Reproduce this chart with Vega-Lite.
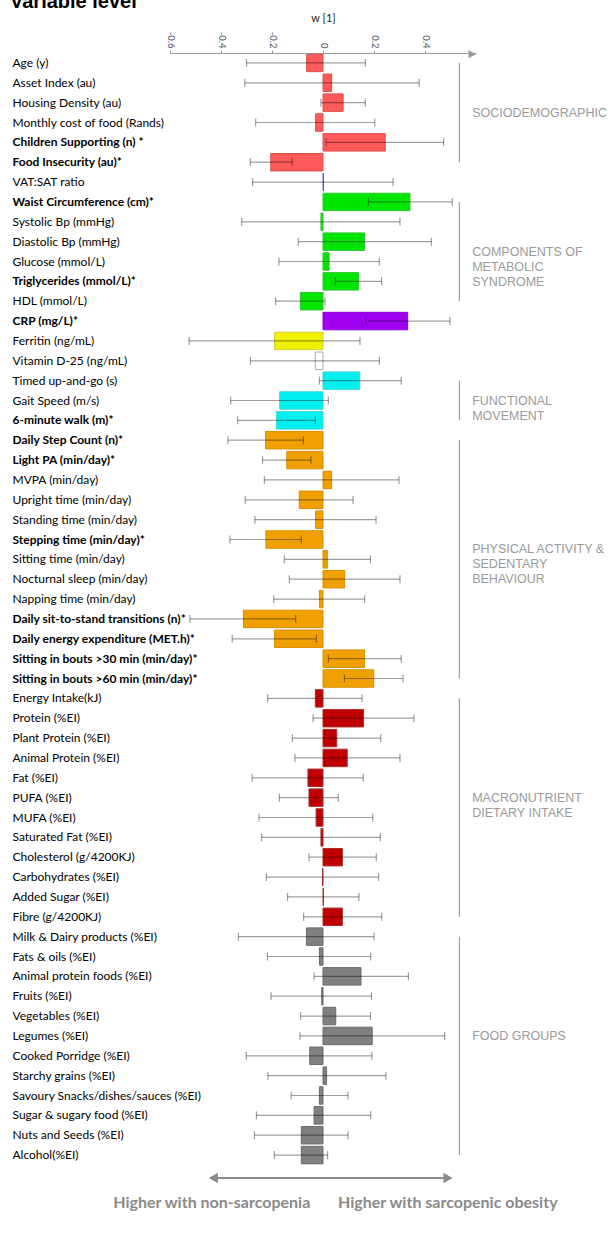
{
  "$schema": "https://vega.github.io/schema/vega-lite/v6.json",
  "padding": {"left": 10, "top": -8, "right": 0, "bottom": 0},
  "title": {"text": "Variable level", "anchor": "start", "frame": "bounds", "fontSize": 20, "font": "Liberation Sans", "fontWeight": "bold", "color": "#000000", "offset": 0, "dx": -2},
  "spacing": 0,
  "config": {"view": {"stroke": null}, "font": "Lato"},
  "datasets": {
    "rows": [
      {"label": "Age (y)", "w": -0.064, "lo": -0.30, "hi": 0.166, "category": "Sociodemographic"},
      {"label": "Asset Index (au)", "w": 0.034, "lo": -0.307, "hi": 0.377, "category": "Sociodemographic"},
      {"label": "Housing Density (au)", "w": 0.079, "lo": -0.008, "hi": 0.166, "category": "Sociodemographic"},
      {"label": "Monthly cost of food (Rands)", "w": -0.029, "lo": -0.264, "hi": 0.203, "category": "Sociodemographic"},
      {"label": "Children Supporting (n) *", "w": 0.244, "lo": 0.012, "hi": 0.473, "category": "Sociodemographic"},
      {"label": "Food Insecurity (au)*", "w": -0.205, "lo": -0.285, "hi": -0.121, "category": "Sociodemographic"},
      {"label": "VAT:SAT ratio", "w": 0.002, "lo": -0.276, "hi": 0.275, "category": "VAT:SAT"},
      {"label": "Waist Circumference (cm)*", "w": 0.341, "lo": 0.178, "hi": 0.507, "category": "Metabolic syndrome"},
      {"label": "Systolic Bp (mmHg)", "w": -0.008, "lo": -0.319, "hi": 0.302, "category": "Metabolic syndrome"},
      {"label": "Diastolic Bp (mmHg)", "w": 0.163, "lo": -0.097, "hi": 0.425, "category": "Metabolic syndrome"},
      {"label": "Glucose (mmol/L)", "w": 0.024, "lo": -0.173, "hi": 0.221, "category": "Metabolic syndrome"},
      {"label": "Triglycerides (mmol/L)*", "w": 0.140, "lo": 0.048, "hi": 0.230, "category": "Metabolic syndrome"},
      {"label": "HDL (mmol/L)", "w": -0.089, "lo": -0.186, "hi": 0.008, "category": "Metabolic syndrome"},
      {"label": "CRP (mg/L)*", "w": 0.332, "lo": 0.167, "hi": 0.498, "category": "CRP"},
      {"label": "Ferritin (ng/mL)", "w": -0.190, "lo": -0.525, "hi": 0.145, "category": "Ferritin"},
      {"label": "Vitamin D-25 (ng/mL)", "w": -0.030, "lo": -0.285, "hi": 0.221, "category": "Vitamin D"},
      {"label": "Timed up-and-go (s)", "w": 0.144, "lo": -0.014, "hi": 0.307, "category": "Functional movement"},
      {"label": "Gait Speed (m/s)", "w": -0.170, "lo": -0.362, "hi": 0.021, "category": "Functional movement"},
      {"label": "6-minute walk (m)*", "w": -0.182, "lo": -0.335, "hi": -0.030, "category": "Functional movement"},
      {"label": "Daily Step Count (n)*", "w": -0.225, "lo": -0.373, "hi": -0.077, "category": "Physical activity"},
      {"label": "Light PA (min/day)*", "w": -0.142, "lo": -0.237, "hi": -0.047, "category": "Physical activity"},
      {"label": "MVPA (min/day)", "w": 0.034, "lo": -0.230, "hi": 0.298, "category": "Physical activity"},
      {"label": "Upright time (min/day)", "w": -0.093, "lo": -0.305, "hi": 0.118, "category": "Physical activity"},
      {"label": "Standing time (min/day)", "w": -0.029, "lo": -0.267, "hi": 0.208, "category": "Physical activity"},
      {"label": "Stepping time (min/day)*", "w": -0.224, "lo": -0.365, "hi": -0.085, "category": "Physical activity"},
      {"label": "Sitting time (min/day)", "w": 0.017, "lo": -0.152, "hi": 0.186, "category": "Physical activity"},
      {"label": "Nocturnal sleep (min/day)", "w": 0.085, "lo": -0.132, "hi": 0.302, "category": "Physical activity"},
      {"label": "Napping time (min/day)", "w": -0.014, "lo": -0.193, "hi": 0.163, "category": "Physical activity"},
      {"label": "Daily sit-to-stand transitions (n)*", "w": -0.312, "lo": -0.522, "hi": -0.107, "category": "Physical activity"},
      {"label": "Daily energy expenditure (MET.h)*", "w": -0.190, "lo": -0.356, "hi": -0.026, "category": "Physical activity"},
      {"label": "Sitting in bouts >30 min (min/day)*", "w": 0.163, "lo": 0.021, "hi": 0.307, "category": "Physical activity"},
      {"label": "Sitting in bouts >60 min (min/day)*", "w": 0.199, "lo": 0.084, "hi": 0.314, "category": "Physical activity"},
      {"label": "Energy Intake(kJ)", "w": -0.030, "lo": -0.217, "hi": 0.153, "category": "Macronutrient"},
      {"label": "Protein (%EI)", "w": 0.159, "lo": -0.039, "hi": 0.357, "category": "Macronutrient"},
      {"label": "Plant Protein (%EI)", "w": 0.054, "lo": -0.120, "hi": 0.227, "category": "Macronutrient"},
      {"label": "Animal Protein (%EI)", "w": 0.095, "lo": -0.110, "hi": 0.302, "category": "Macronutrient"},
      {"label": "Fat (%EI)", "w": -0.059, "lo": -0.278, "hi": 0.158, "category": "Macronutrient"},
      {"label": "PUFA (%EI)", "w": -0.055, "lo": -0.171, "hi": 0.060, "category": "Macronutrient"},
      {"label": "MUFA (%EI)", "w": -0.027, "lo": -0.251, "hi": 0.195, "category": "Macronutrient"},
      {"label": "Saturated Fat (%EI)", "w": -0.008, "lo": -0.241, "hi": 0.225, "category": "Macronutrient"},
      {"label": "Cholesterol (g/4200KJ)", "w": 0.076, "lo": -0.055, "hi": 0.209, "category": "Macronutrient"},
      {"label": "Carbohydrates (%EI)", "w": -0.002, "lo": -0.222, "hi": 0.218, "category": "Macronutrient"},
      {"label": "Added Sugar (%EI)", "w": 0.002, "lo": -0.139, "hi": 0.141, "category": "Macronutrient"},
      {"label": "Fibre (g/4200KJ)", "w": 0.076, "lo": -0.076, "hi": 0.230, "category": "Macronutrient"},
      {"label": "Milk & Dairy products (%EI)", "w": -0.065, "lo": -0.332, "hi": 0.200, "category": "Food groups"},
      {"label": "Fats & oils (%EI)", "w": -0.014, "lo": -0.218, "hi": 0.187, "category": "Food groups"},
      {"label": "Animal protein foods (%EI)", "w": 0.149, "lo": -0.035, "hi": 0.335, "category": "Food groups"},
      {"label": "Fruits (%EI)", "w": -0.005, "lo": -0.204, "hi": 0.190, "category": "Food groups"},
      {"label": "Vegetables (%EI)", "w": 0.050, "lo": -0.088, "hi": 0.186, "category": "Food groups"},
      {"label": "Legumes (%EI)", "w": 0.193, "lo": -0.090, "hi": 0.477, "category": "Food groups"},
      {"label": "Cooked Porridge (%EI)", "w": -0.052, "lo": -0.301, "hi": 0.192, "category": "Food groups"},
      {"label": "Starchy grains (%EI)", "w": 0.014, "lo": -0.216, "hi": 0.247, "category": "Food groups"},
      {"label": "Savoury Snacks/dishes/sauces (%EI)", "w": -0.014, "lo": -0.125, "hi": 0.098, "category": "Food groups"},
      {"label": "Sugar & sugary food (%EI)", "w": -0.035, "lo": -0.261, "hi": 0.187, "category": "Food groups"},
      {"label": "Nuts and Seeds (%EI)", "w": -0.085, "lo": -0.269, "hi": 0.098, "category": "Food groups"},
      {"label": "Alcohol(%EI)", "w": -0.085, "lo": -0.191, "hi": 0.018, "category": "Food groups"}
    ],
    "groups": [
      {"group": ["SOCIODEMOGRAPHIC"], "start": "Age (y)", "end": "Food Insecurity (au)*", "anchor": "Housing Density (au)", "place": "between"},
      {"group": ["COMPONENTS OF", "METABOLIC", "SYNDROME"], "start": "Waist Circumference (cm)*", "end": "HDL (mmol/L)", "anchor": "Diastolic Bp (mmHg)", "place": "between"},
      {"group": ["FUNCTIONAL", "MOVEMENT"], "start": "Timed up-and-go (s)", "end": "6-minute walk (m)*", "anchor": "Gait Speed (m/s)", "place": "center"},
      {"group": ["PHYSICAL ACTIVITY &", "SEDENTARY", "BEHAVIOUR"], "start": "Daily Step Count (n)*", "end": "Sitting in bouts >60 min (min/day)*", "anchor": "Stepping time (min/day)*", "place": "between"},
      {"group": ["MACRONUTRIENT", "DIETARY INTAKE"], "start": "Energy Intake(kJ)", "end": "Fibre (g/4200KJ)", "anchor": "PUFA (%EI)", "place": "center"},
      {"group": ["FOOD GROUPS"], "start": "Milk & Dairy products (%EI)", "end": "Alcohol(%EI)", "anchor": "Legumes (%EI)", "place": "center"}
    ]
  },
  "vconcat": [
    {
      "width": 306,
      "height": 1112,
      "layer": [
        {
          "data": {"name": "rows"},
          "mark": {"type": "bar", "strokeWidth": 1},
          "encoding": {
            "y": {
              "field": "label", "type": "nominal", "sort": null,
              "scale": {"paddingInner": 0.12, "paddingOuter": 0.06},
              "axis": {
                "title": null, "domain": false, "ticks": false,
                "labelAlign": "left", "labelPadding": 158, "labelLimit": 400,
                "labelFont": "Lato", "labelFontSize": 12, "labelColor": "#000000",
                "labelFontWeight": {"condition": {"test": "indexof(datum.value, '*') >= 0", "value": "bold"}, "value": "normal"}
              }
            },
            "x": {
              "field": "w", "type": "quantitative",
              "scale": {"domain": [-0.6, 0.6], "nice": false, "zero": false},
              "axis": {
                "orient": "top", "title": "w [1]", "titleFontSize": 11, "titleFontWeight": "normal", "titleColor": "#222222", "titlePadding": 8,
                "values": [-0.6, -0.5, -0.4, -0.3, -0.2, -0.1, 0, 0.1, 0.2, 0.3, 0.4, 0.5],
                "labelExpr": "abs(round(datum.value*10)) % 2 == 0 ? '' + datum.value : ''",
                "labelAngle": 90, "labelAlign": "right", "labelBaseline": "middle", "labelFlush": false, "labelOverlap": false,
                "labelFontSize": 9.5, "labelColor": "#4f5a66", "labelPadding": 2,
                "tickSize": 3, "tickColor": "#999999", "domainColor": "#999999", "grid": false
              }
            },
            "x2": {"datum": 0},
            "fill": {
              "field": "category", "type": "nominal", "legend": null,
              "scale": {
                "domain": ["Sociodemographic", "VAT:SAT", "Metabolic syndrome", "CRP", "Ferritin", "Vitamin D", "Functional movement", "Physical activity", "Macronutrient", "Food groups"],
                "range": ["#ff5a5a", "#5a5ae6", "#00e600", "#a000f0", "#f0f000", "#ffffff", "#00f0f0", "#f0a000", "#c00000", "#808080"]
              }
            },
            "stroke": {
              "field": "category", "type": "nominal", "legend": null,
              "scale": {
                "domain": ["Sociodemographic", "VAT:SAT", "Metabolic syndrome", "CRP", "Ferritin", "Vitamin D", "Functional movement", "Physical activity", "Macronutrient", "Food groups"],
                "range": ["#d85050", "#5a5ae6", "#30c830", "#9000d8", "#d0d040", "#aaaaaa", "#40d8d8", "#d89000", "#a83030", "#6a6a6a"]
              }
            }
          }
        },
        {
          "data": {"name": "rows"},
          "mark": {"type": "errorbar", "thickness": 1.2, "rule": {"color": "#000000", "opacity": 0.38}, "ticks": {"color": "#000000", "opacity": 0.38, "size": 8}},
          "encoding": {
            "y": {"field": "label", "type": "nominal", "sort": null},
            "x": {"field": "lo", "type": "quantitative", "axis": {"title": "w [1]"}},
            "x2": {"field": "hi"}
          }
        },
        {
          "mark": {"type": "rule", "color": "#9a9a9a", "strokeWidth": 1},
          "encoding": {"x": {"datum": 0}}
        },
        {
          "data": {"name": "groups"},
          "mark": {"type": "rule", "color": "#a0a0a0", "strokeWidth": 1.2},
          "encoding": {
            "x": {"datum": 0.535},
            "y": {"field": "start", "type": "nominal", "sort": null},
            "y2": {"field": "end"}
          }
        },
        {
          "data": {"name": "groups"},
          "transform": [{"filter": "datum.place == 'between'"}],
          "mark": {"type": "text", "align": "left", "baseline": "middle", "font": "Liberation Sans", "fontSize": 12.5, "color": "#9a9a9a", "lineHeight": 15},
          "encoding": {
            "x": {"datum": 0.585},
            "y": {"field": "anchor", "type": "nominal", "sort": null, "bandPosition": 1.07},
            "text": {"field": "group"}
          }
        },
        {
          "data": {"name": "groups"},
          "transform": [{"filter": "datum.place == 'center'"}],
          "mark": {"type": "text", "align": "left", "baseline": "middle", "font": "Liberation Sans", "fontSize": 12.5, "color": "#9a9a9a", "lineHeight": 15},
          "encoding": {
            "x": {"datum": 0.585},
            "y": {"field": "anchor", "type": "nominal", "sort": null},
            "text": {"field": "group"}
          }
        },
        {
          "data": {"values": [{"label": "Age (y)"}]},
          "mark": {"type": "point", "shape": "triangle-right", "filled": true, "size": 70, "color": "#999999", "opacity": 1},
          "encoding": {
            "x": {"datum": 0.585},
            "y": {"field": "label", "type": "nominal", "sort": null, "bandPosition": 0}
          }
        }
      ]
    },
    {
      "width": 306,
      "height": 69,
      "layer": [
        {
          "mark": {"type": "rule", "color": "#9a9a9a", "strokeWidth": 1},
          "encoding": {"x": {"datum": 0, "type": "quantitative", "scale": {"domain": [-0.6, 0.6], "nice": false, "zero": false}, "axis": null}}
        },
        {
          "data": {"values": [{"from": -0.44, "to": 0.5, "level": 0.81}]},
          "mark": {"type": "rule", "color": "#8a8a8a", "strokeWidth": 2},
          "encoding": {
            "x": {"field": "from", "type": "quantitative", "axis": null},
            "x2": {"field": "to"},
            "y": {"field": "level", "type": "quantitative", "scale": {"domain": [0, 1]}, "axis": null}
          }
        },
        {
          "data": {"values": [{"end": -0.43, "direction": "left", "level": 0.81}, {"end": 0.49, "direction": "right", "level": 0.81}]},
          "mark": {"type": "point", "filled": true, "size": 110, "color": "#8a8a8a", "opacity": 1},
          "encoding": {
            "x": {"field": "end", "type": "quantitative", "axis": null},
            "y": {"field": "level", "type": "quantitative", "axis": null},
            "shape": {"field": "direction", "type": "nominal", "legend": null, "scale": {"domain": ["left", "right"], "range": ["triangle-left", "triangle-right"]}}
          }
        },
        {
          "data": {"values": [{"text": "Higher with non-sarcopenia", "level": 0.45}]},
          "mark": {"type": "text", "align": "right", "baseline": "middle", "font": "Lato", "fontWeight": "bold", "fontSize": 16, "color": "#8a8a8a"},
          "encoding": {
            "x": {"datum": -0.05},
            "y": {"field": "level", "type": "quantitative", "axis": null},
            "text": {"field": "text"}
          }
        },
        {
          "data": {"values": [{"text": "Higher with sarcopenic obesity", "level": 0.45}]},
          "mark": {"type": "text", "align": "left", "baseline": "middle", "font": "Lato", "fontWeight": "bold", "fontSize": 16, "color": "#8a8a8a"},
          "encoding": {
            "x": {"datum": 0.059},
            "y": {"field": "level", "type": "quantitative", "axis": null},
            "text": {"field": "text"}
          }
        }
      ]
    }
  ]
}
